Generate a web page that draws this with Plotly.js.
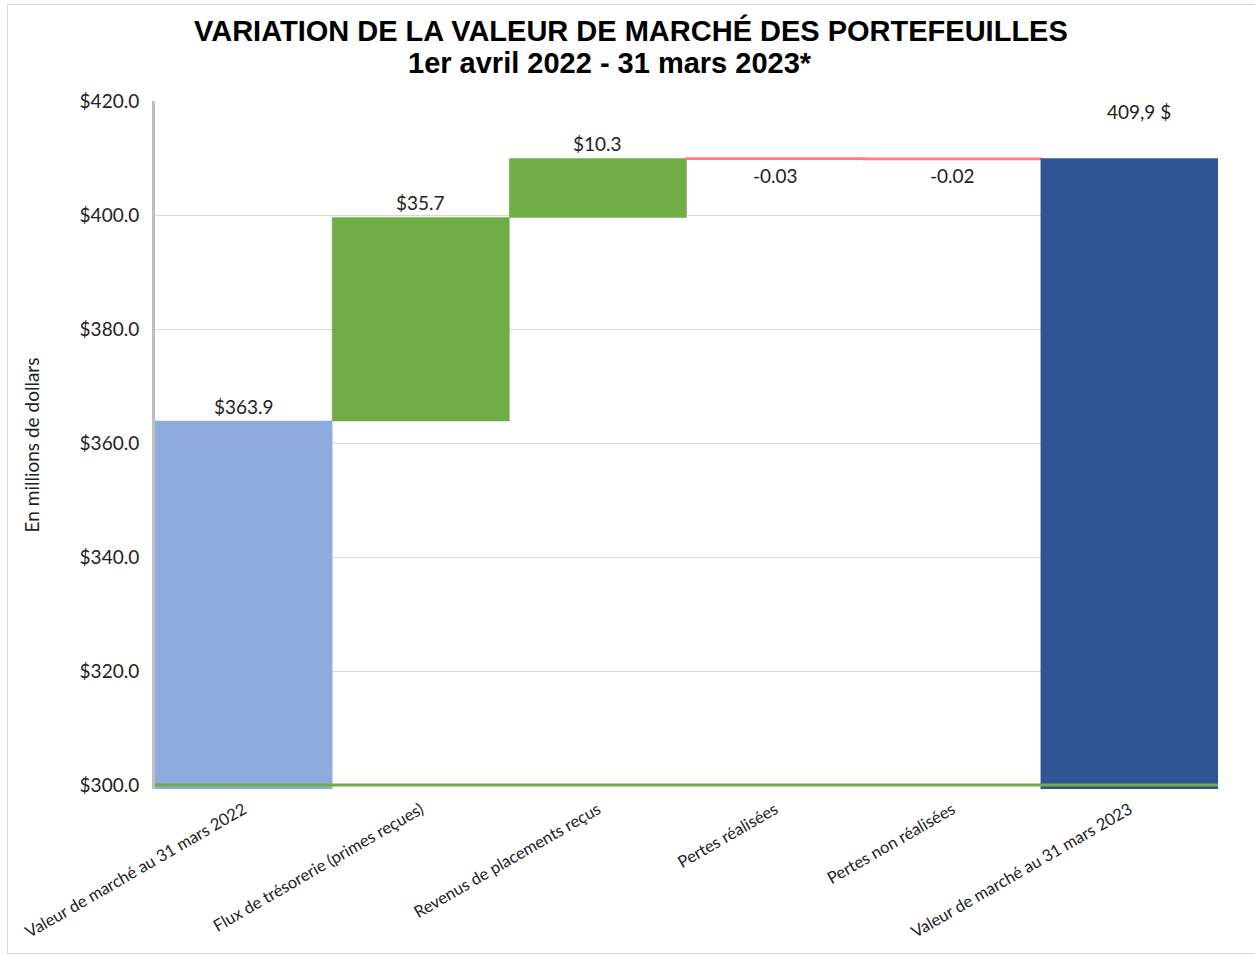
<!DOCTYPE html>
<html>
<head>
<meta charset="utf-8">
<script src="https://cdn.plot.ly/plotly-3.0.1.min.js"></script>
<style>
  body { margin: 0; background: #fff; }
  #plot { width: 1255px; height: 955px; }
  #frame { position: absolute; left: 7px; top: 4px; width: 1250px; height: 948px; border: 1px solid #d9d9d9; pointer-events: none; }
</style>
</head>
<body>
<div id="plot"></div>
<div id="frame"></div>
<script>
// categories and values (millions de dollars)
const categories = [
  'Valeur de marché au 31 mars 2022',
  'Flux de trésorerie (primes reçues)',
  'Revenus de placements reçus',
  'Pertes réalisées',
  'Pertes non réalisées',
  'Valeur de marché au 31 mars 2023'
];
const values = [363.9, 35.7, 10.3, -0.03, -0.02, 409.9];
const measures = ['absolute', 'relative', 'relative', 'relative', 'relative', 'total'];
const labels = ['$363.9', '$35.7', '$10.3', '-0.03', '-0.02', '409,9 $'];
const barColors = ['#8FAADC', '#70AD47', '#70AD47', '#FF7C80', '#FF7C80', '#2F5597'];
const yTicks = [300, 320, 340, 360, 380, 400, 420];
const titleLines = ['VARIATION DE LA VALEUR DE MARCHÉ DES PORTEFEUILLES', '1er avril 2022 - 31 mars 2023*'];

const yMin = 299.4;
const labelFont = { family: 'Lato, sans-serif', size: 19, color: '#222' };

// build bases and heights for a waterfall made of plain bars
let bases = [];
let heights = [];
let running = 0;
for (let i = 0; i < values.length; i++) {
  if (measures[i] === 'relative') {
    bases.push(running);
    heights.push(values[i]);
    running += values[i];
  } else {
    bases.push(yMin);
    heights.push(values[i] - yMin);
    running = values[i];
  }
}

const trace = {
  type: 'bar',
  x: categories,
  y: heights,
  base: bases,
  width: 1,
  marker: {
    color: barColors,
    line: { color: barColors, width: barColors.map((c, i) => measures[i] === 'relative' && values[i] < 0 ? 2.5 : 0.5) }
  },
  hoverinfo: 'skip'
};

let annotations = [];
for (let i = 0; i < values.length; i++) {
  const top = bases[i] + Math.max(heights[i], 0);
  const neg = values[i] < 0;
  let shift = neg ? -3 : 1.5;
  if (measures[i] === 'total') shift = 34;
  annotations.push({
    x: categories[i],
    y: neg ? bases[i] : top,
    xref: 'x', yref: 'y',
    text: labels[i],
    showarrow: false,
    yanchor: neg ? 'top' : 'bottom',
    yshift: shift,
    xshift: measures[i] === 'total' ? 10 : 0,
    font: labelFont
  });
}

// title as two lines over the picture (second line sits a bit to the left)
const titleX = [0.448, 0.428];
const titleY = [1.103, 1.055];
titleLines.forEach((t, i) => {
  annotations.push({
    xref: 'paper', yref: 'paper',
    x: titleX[i], y: titleY[i],
    xanchor: 'center', yanchor: 'middle',
    text: '<b>' + t + '</b>',
    showarrow: false,
    font: { family: 'Liberation Sans, Arial, sans-serif', size: 29, color: '#000' }
  });
});

const layout = {
  width: 1255,
  height: 955,
  margin: { l: 155, r: 37, t: 101, b: 165.5 },
  paper_bgcolor: '#fff',
  plot_bgcolor: '#fff',
  showlegend: false,
  bargap: 0,
  xaxis: {
    type: 'category',
    tickangle: -30,
    showgrid: false,
    showline: false,
    ticks: '',
    ticklabelstandoff: 7,
    tickfont: { family: 'Lato, sans-serif', size: 16.5, color: '#222' }
  },
  yaxis: {
    range: [yMin, 420],
    tickvals: yTicks,
    ticktext: yTicks.map(v => '$' + v.toFixed(1)),
    showgrid: true,
    gridcolor: '#d9d9d9',
    gridwidth: 1,
    zeroline: false,
    showline: true,
    linecolor: '#bfbfbf',
    linewidth: 3,
    ticks: '',
    ticklabelstandoff: 9,
    tickfont: { family: 'Lato, sans-serif', size: 19, color: '#222' },
    title: {
      text: 'En millions de dollars',
      font: { family: 'Lato, sans-serif', size: 19, color: '#222' },
      standoff: 35
    }
  },
  shapes: [{
    type: 'line', xref: 'paper', yref: 'y',
    x0: 0, x1: 1, y0: 300.1, y1: 300.1,
    line: { color: '#70AD47', width: 3 }
  }],
  annotations: annotations
};

Plotly.newPlot('plot', [trace], layout, { displayModeBar: false, staticPlot: true });
</script>
</body>
</html>
